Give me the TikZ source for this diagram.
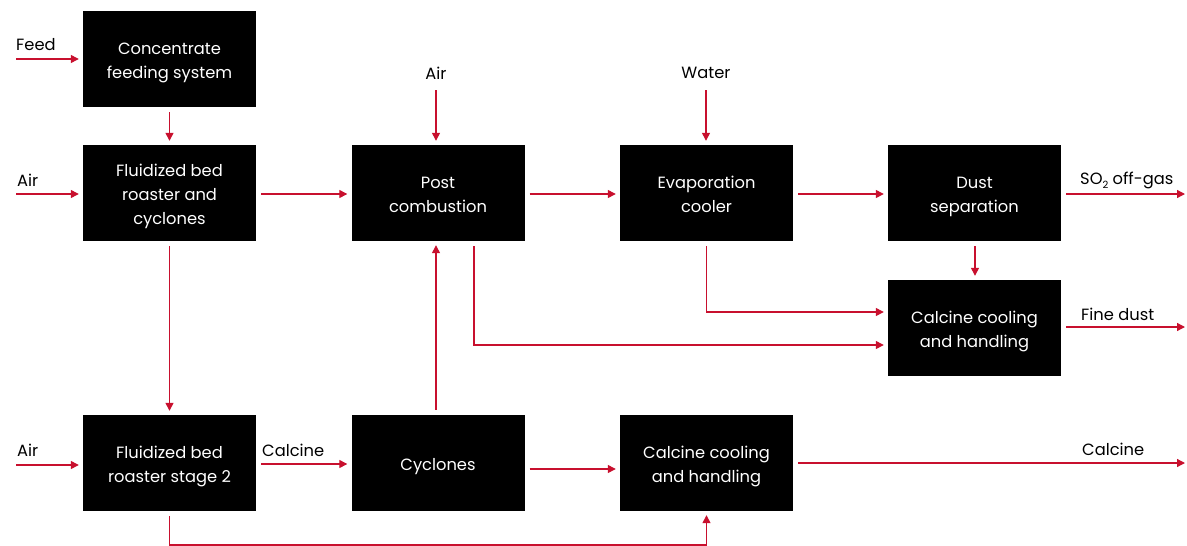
\documentclass[tikz,border=0pt]{standalone}
\usepackage{fontspec}
\setmainfont{Poppins}
\usetikzlibrary{arrows.meta,calc}
\definecolor{flowred}{HTML}{C8102E}
\newcommand\boxtext[1]{\raisebox{0pt}[\dimexpr\height+4.5pt\relax][\depth]{\begin{tabular}{@{}c@{}}#1\end{tabular}}}
\begin{document}
\begin{tikzpicture}[x=1pt,y=-1pt,
  box/.style={fill=black,text=white,minimum width=173pt,minimum height=96pt,inner sep=0pt,font=\fontsize{16.3}{24}\selectfont},
  lbl/.style={text=black,inner sep=0pt,font=\fontsize{16.3}{18}\selectfont},
  flow/.style={draw=flowred,line width=1.3pt,-{Triangle[length=8pt,width=8pt]},shorten >=4pt},
  fromgap/.style={shorten <=5pt}]
\useasboundingbox (0,0) rectangle (1187,546);
% boxes
\node[box] (cfs) at (169.5,59) {\boxtext{Concentrate\\feeding system}};
\node[box] (fbr) at (169.5,193) {\boxtext{Fluidized bed\\roaster and\\cyclones}};
\node[box] (post) at (438,193) {\boxtext{Post\\combustion}};
\node[box] (evap) at (706.5,193) {\boxtext{Evaporation\\cooler}};
\node[box] (dust) at (974.5,193) {\boxtext{Dust\\separation}};
\node[box] (ccr) at (974.5,328) {\boxtext{Calcine cooling\\and handling}};
\node[box] (fbr2) at (169.5,463) {\boxtext{Fluidized bed\\roaster stage 2}};
\node[box] (cyc) at (438,463) {\boxtext{Cyclones}};
\node[box] (ccb) at (706.5,463) {\boxtext{Calcine cooling\\and handling}};
% free ends
\coordinate (feedin) at (16,59);
\coordinate (air1) at (16,194);
\coordinate (air2) at (436,90);
\coordinate (water) at (706,90);
\coordinate (so2) at (1189,194);
\coordinate (fine) at (1189,327);
\coordinate (air3) at (16,465);
\coordinate (calout) at (1189,463);
% labels
\node[lbl,anchor=west] (lfeed) at (16,45) {Feed};
\node[lbl,anchor=west] (lair1) at (17,180) {Air};
\node[lbl] (lair2) at (436,73) {Air};
\node[lbl] (lwater) at (706,73) {Water};
\node[lbl,anchor=west] (lso2) at (1080,180) {SO\raisebox{-4pt}{\fontsize{10}{10}\selectfont 2} off-gas};
\node[lbl,anchor=west] (lfine) at (1081,314) {Fine dust};
\node[lbl,anchor=west] (lair3) at (17,450) {Air};
\node[lbl,anchor=west] (lcal1) at (262,450) {Calcine};
\node[lbl,anchor=west] (lcal2) at (1082,449) {Calcine};
% connectors
\draw[flow] (feedin) -- (feedin -| cfs.west);
\draw[flow] (air1) -- (air1 -| fbr.west);
\draw[flow] (air3) -- (air3 -| fbr2.west);
\draw[flow] (air2) -- (air2 |- post.north);
\draw[flow] (water) -- (water |- evap.north);
\draw[flow,fromgap] (cfs) -- (fbr);
\draw[flow,fromgap] ([yshift=-1pt]fbr.east) -- ([yshift=-1pt]post.west);
\draw[flow,fromgap] ([yshift=-1pt]post.east) -- ([yshift=-1pt]evap.west);
\draw[flow,fromgap] ([yshift=-1pt]evap.east) -- ([yshift=-1pt]dust.west);
\draw[flow,fromgap] ([yshift=-1pt]dust.east) -- (so2);
\draw[flow,fromgap] ([xshift=0.5pt]dust.south) -- ([xshift=0.5pt]ccr.north);
\draw[flow,fromgap] ([yshift=1pt]ccr.east) -- (fine);
\draw[flow,fromgap] (evap.south) -- (evap.south |- 0,312) -- (ccr.west |- 0,312);
\draw[flow,fromgap] ([xshift=36pt]post.south) |- (ccr.west |- 0,345);
\draw[flow,fromgap] (fbr) -- (fbr2);
\draw[flow,fromgap] ([yshift=-1pt]fbr2.east) -- ([yshift=-1pt]cyc.west);
\draw[flow,fromgap] ([xshift=-2pt]cyc.north) -- ([xshift=-2pt]post.south);
\draw[flow,fromgap] ([yshift=-6pt]cyc.east) -- ([yshift=-6pt]ccb.west);
\draw[flow,fromgap] (ccb.east) -- (calout);
\draw[flow,fromgap] (fbr2.south) -- (fbr2.south |- 0,545) -| (ccb.south);
\end{tikzpicture}
\end{document}
